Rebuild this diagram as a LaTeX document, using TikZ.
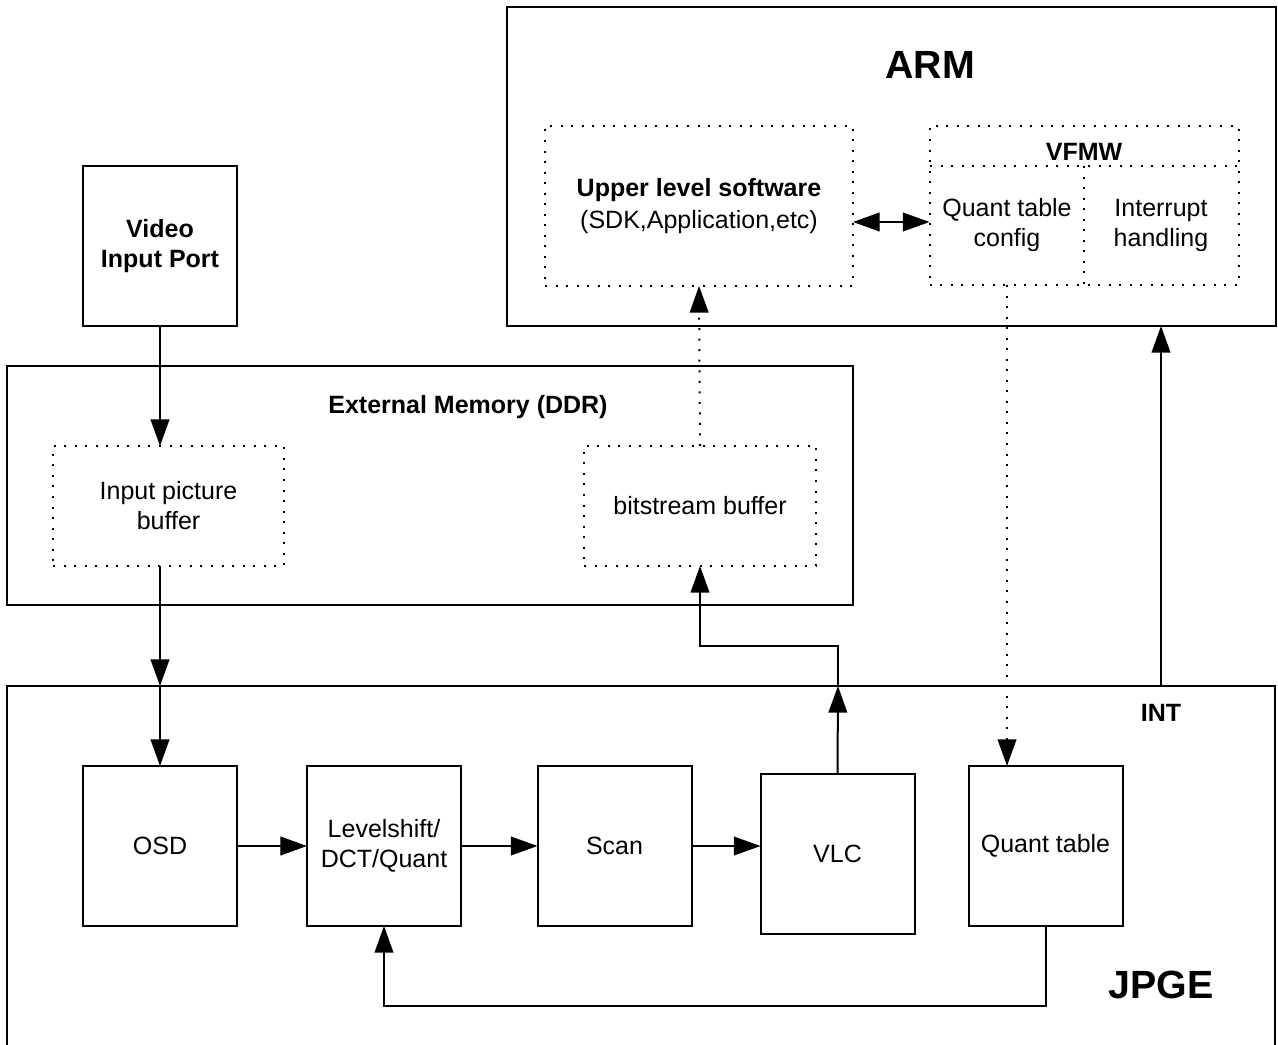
\documentclass[tikz,border=0pt]{standalone}
\usepackage{fontspec}
\setmainfont{Liberation Sans}
\usetikzlibrary{arrows.meta}
\begin{document}
\begin{tikzpicture}[x=0.75pt,y=-0.75pt,
  txt/.style={font=\fontsize{18.75pt}{22.5pt}\selectfont, align=center, inner sep=0pt},
  boldtxt/.style={font=\fontsize{18.75pt}{22.5pt}\selectfont\bfseries, align=center, inner sep=0pt},
  bigtxt/.style={font=\fontsize{29.5pt}{33pt}\selectfont\bfseries, inner sep=0pt},
  box/.style={draw, line width=1.5pt, inner sep=0pt, outer sep=0pt, align=center,
    font=\fontsize{18.75pt}{22.5pt}\selectfont},
  smallbox/.style={box, minimum width=115.5pt, minimum height=120pt},
  dotline/.style={line width=1.5pt, dash pattern=on 1.5pt off 6.4pt},
  dbox/.style={box, draw=none, postaction={draw, dotline}},
  arr/.style={line width=1.5pt, -{Triangle[length=20pt,width=14pt]}},
  darr/.style={line width=1.5pt, {Triangle[length=20pt,width=14pt]}-{Triangle[length=20pt,width=14pt]}},
  dotarr/.style={dotline, -{Triangle[length=20pt,width=14pt]}},
]
\useasboundingbox (0,0) rectangle (1278,1045);

% ARM
\node[box, minimum width=576.75pt, minimum height=239.25pt] (arm) at (891.5,166.5) {};
\node[bigtxt] (armlbl) at (930,65) {ARM};
\node[dbox, minimum width=231pt, minimum height=120pt] (usw) at (699,206)
  {\textbf{Upper level software}\\[1.5pt](SDK,Application,etc)};
\node[dbox, minimum width=231.75pt, minimum height=119.25pt] (vfmw) at (1084,205.5) {};
\draw[dotline] (930,166) -- (1238,166);
\draw[dotline] (1084,166) -- (1084,285);
\node[boldtxt] (vfmwlbl) at (1084,152) {VFMW};
\node[txt, minimum width=115.5pt, minimum height=89.25pt, outer sep=0pt] (qtc) at (1007,225.5) {Quant table\\config};
\node[txt, minimum width=115.5pt, minimum height=89.25pt, outer sep=0pt] (intr) at (1161,225.5) {Interrupt\\handling};

% Video input port
\node[box, minimum width=115.5pt, minimum height=120pt, font=\fontsize{18.75pt}{22.5pt}\selectfont\bfseries] (vip) at (160,246) {Video\\Input Port};

% External memory
\node[box, minimum width=634.5pt, minimum height=179.25pt] (ext) at (430,485.5) {};
\node[boldtxt] (extlbl) at (468,407) {External Memory (DDR)};
\node[dbox, minimum width=173.25pt, minimum height=90pt] (ipb) at (168.5,506) {Input picture\\buffer};
\node[dbox, minimum width=174pt, minimum height=90pt] (bsb) at (700,506) {bitstream buffer};

% JPGE
\draw[line width=1.5pt] (7,1060) -- (7,686) -- (1275,686) -- (1275,1060);
\coordinate (jin) at (160,686);
\coordinate (jout) at (838,686);
\coordinate (jint) at (1161,686);
\coordinate (bend) at (838,646);
\coordinate (fb) at (0,1006);
\node[bigtxt] (jpgelbl) at (1161,985) {JPGE};
\node[boldtxt] (intlbl) at (1161,713) {INT};

\node[smallbox] (osd) at (160,846) {OSD};
\node[smallbox] (lsq) at (384,846) {Levelshift/\\DCT/Quant};
\node[smallbox] (scan) at (614.5,846) {Scan};
\node[smallbox] (vlc) at (837.5,854) {VLC};
\node[smallbox] (qt) at (1045.5,846) {Quant table};

% connectors
\draw[arr] (vip.south) -- (vip.south |- ipb.north);
\draw[arr] (jin |- ipb.south) -- (jin);
\draw[arr] (jin) -- (osd.north);
\draw[arr] (osd.east) -- (lsq.west);
\draw[arr] (lsq.east) -- (scan.west);
\draw[arr] (scan.east) -- (vlc.west |- scan.east);
\draw[arr] (vlc.north) -- (jout);
\draw[arr] (jout) -- (bend) -| (bsb.south);
\draw[dotarr] (bsb.north) -- (usw.south);
\draw[darr] (usw.east |- 0,222) -- (vfmw.west |- 0,222);
\draw[dotarr] (qtc.south) -- (qtc.south |- qt.north);
\draw[arr] (qt.south) -- (qt.south |- fb) -- (lsq.south |- fb) -- (lsq.south);
\draw[arr] (jint) -- (jint |- arm.south);
\end{tikzpicture}
\end{document}
